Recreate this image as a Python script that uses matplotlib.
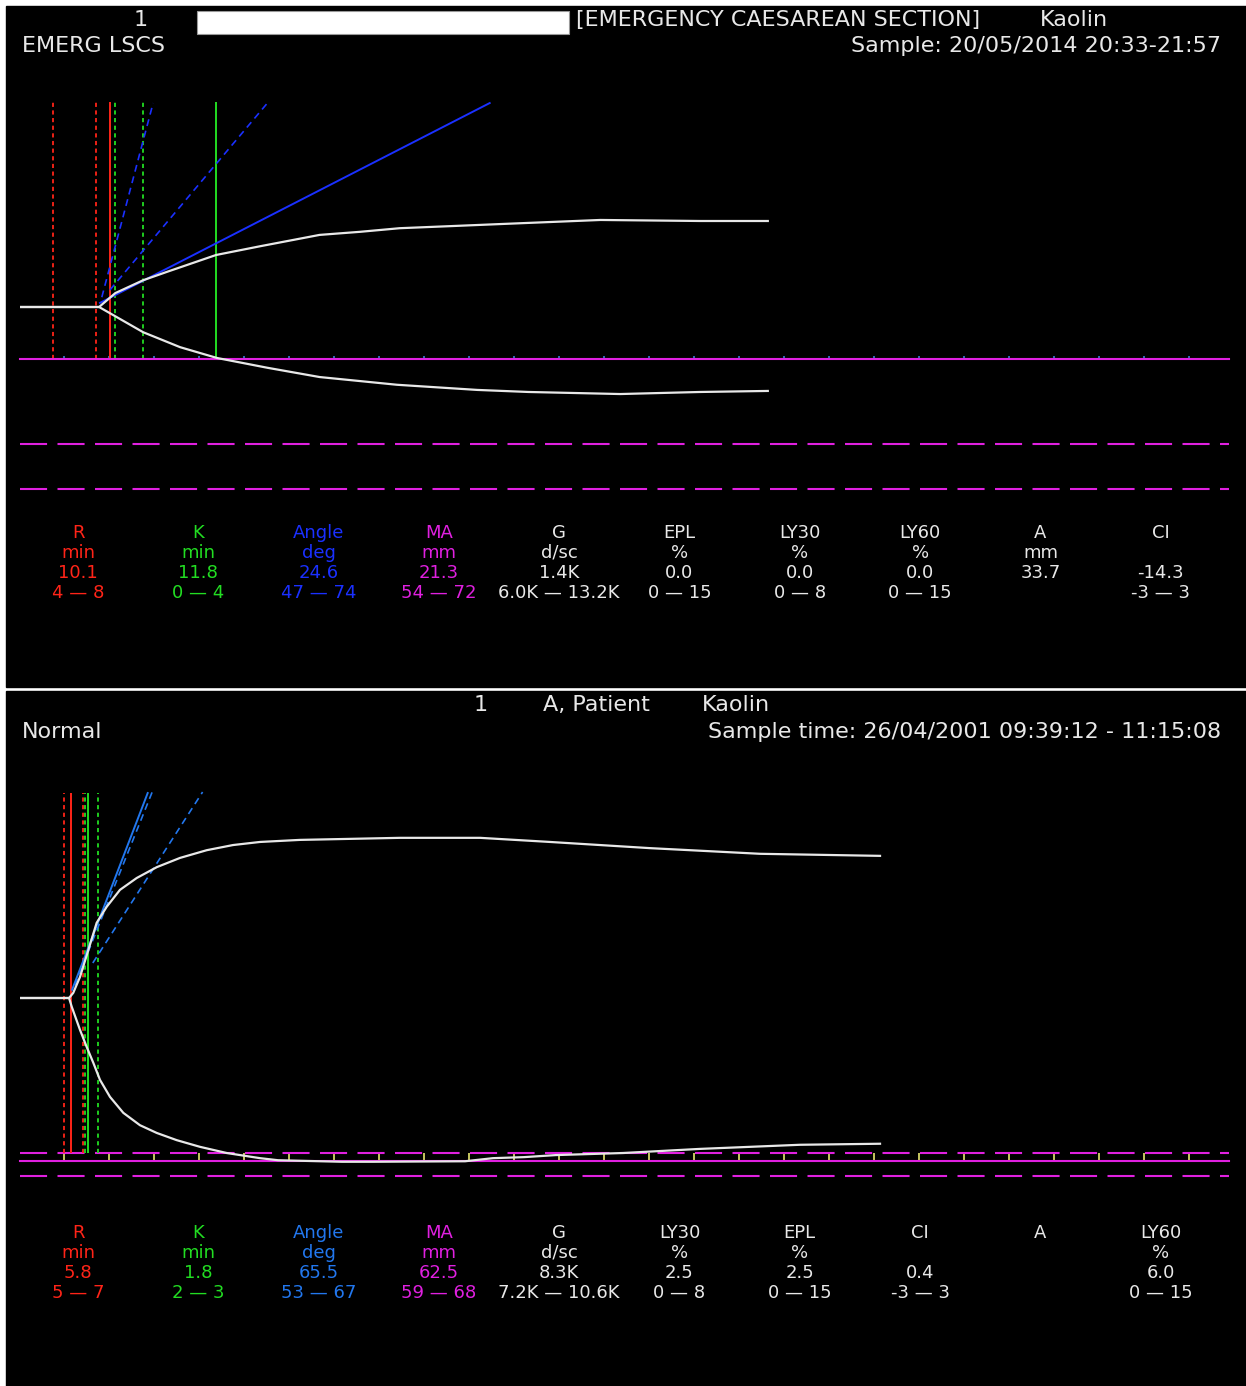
import matplotlib
matplotlib.use('Agg')
import matplotlib.pyplot as plt
from matplotlib.patches import Rectangle

plt.rcParams['font.family'] = ['DejaVu Sans']
plt.rcParams['lines.scale_dashes'] = False

W, H = 1246, 1386

# ---- panel 1: emergency LSCS trace (time in min, amplitude in mm) ----
p1_up_t = [0, 8.9, 10.7, 13.8, 16.4, 21.9, 26.8, 33.4, 37.9, 42.3, 47.9, 53.4, 59.0, 64.6, 75.7, 83.2]
p1_up_amp = [0, 0, 2.7, 5.2, 6.8, 10.1, 11.8, 14.0, 14.6, 15.3, 15.7, 16.1, 16.5, 16.9, 16.7, 16.7]
p1_lo_t = [0, 8.9, 10.1, 13.8, 17.9, 22.0, 27.6, 33.4, 42.0, 50.9, 56.6, 66.8, 75.7, 83.2]
p1_lo_amp = [0, 0, 1.2, 4.9, 7.8, 9.9, 11.8, 13.6, 15.1, 16.1, 16.5, 16.9, 16.5, 16.3]

p1_r_range = [3.8, 8.6]
p1_r = 10.1
p1_k_range = [10.7, 13.8]
p1_rk = 21.9
p1_angle_t = [9.0, 52.3]
p1_angle_amp = [0.8, 39.6]
p1_angle_lo_t = [9.2, 14.9]
p1_angle_lo_amp = [1.9, 39.6]
p1_angle_hi_t = [10.1, 27.6]
p1_angle_hi_amp = [3.3, 39.6]
p1_base = -10.1
p1_limits = [-26.6, -35.3]

# ---- panel 2: normal trace ----
p2_up_t = [0, 5.56, 6.03, 6.78, 7.7, 8.63, 9.74, 11.22, 13.08, 15.3, 17.89, 20.86, 23.78,
           26.78, 31.22, 42.33, 51.22, 59.0, 70.11, 82.33, 95.67]
p2_up_amp = [0, 0, 1.0, 4.1, 9.3, 14.6, 17.7, 21.0, 23.3, 25.4, 27.2, 28.7, 29.7,
             30.3, 30.7, 31.1, 31.1, 30.3, 29.1, 28.0, 27.6]
p2_lo_t = [0, 5.56, 5.86, 6.78, 7.52, 8.26, 9.0, 10.11, 11.59, 13.44, 15.3, 17.52, 20.11,
           23.08, 26.78, 28.78, 35.89, 39.33, 49.56, 52.67, 56.11, 59.67, 67.11, 75.67, 86.78, 95.67]
p2_lo_amp = [0, 0, 1.7, 6.2, 9.5, 12.6, 15.9, 19.2, 22.3, 24.7, 26.2, 27.6, 28.9,
             30.1, 31.1, 31.5, 31.8, 31.8, 31.7, 31.1, 30.9, 30.5, 30.1, 29.3, 28.5, 28.3]

p2_r_range = [5.0, 7.1]
p2_r = 5.8
p2_k_range = [7.3, 8.8]
p2_rk = 7.7
p2_angle_t = [5.9, 14.3]
p2_angle_amp = [1.6, 39.8]
p2_angle_lo_t = [6.2, 14.8]
p2_angle_lo_amp = [2.5, 40.0]
p2_angle_hi_t = [8.2, 20.4]
p2_angle_hi_amp = [6.8, 40.0]
p2_base = -31.65
p2_limits = [-30.1, -34.6]

tick_times = list(range(5, 135, 5))

# ---- result tables ----
p1_names = ['R', 'K', 'Angle', 'MA', 'G', 'EPL', 'LY30', 'LY60', 'A', 'CI']
p1_units = ['min', 'min', 'deg', 'mm', 'd/sc', '%', '%', '%', 'mm', '']
p1_values = ['10.1', '11.8', '24.6', '21.3', '1.4K', '0.0', '0.0', '0.0', '33.7', '-14.3']
p1_ranges = ['4 — 8', '0 — 4', '47 — 74', '54 — 72', '6.0K — 13.2K', '0 — 15', '0 — 8', '0 — 15', '', '-3 — 3']

p2_names = ['R', 'K', 'Angle', 'MA', 'G', 'LY30', 'EPL', 'CI', 'A', 'LY60']
p2_units = ['min', 'min', 'deg', 'mm', 'd/sc', '%', '%', '', '', '%']
p2_values = ['5.8', '1.8', '65.5', '62.5', '8.3K', '2.5', '2.5', '0.4', '', '6.0']
p2_ranges = ['5 — 7', '2 — 3', '53 — 67', '59 — 68', '7.2K — 10.6K', '0 — 8', '0 — 15', '-3 — 3', '', '0 — 15']

RED = '#ff2418'
GREEN = '#22dd22'
BLUE1 = '#1a30ff'
BLUE2 = '#2277ee'
MAGENTA = '#e020e0'
WHITE = '#e8e8e8'

p1_colors = [RED, GREEN, BLUE1, MAGENTA] + [WHITE] * 6
p2_colors = [RED, GREEN, BLUE2, MAGENTA] + [WHITE] * 6

fig = plt.figure(figsize=(W / 100, H / 100), dpi=100, facecolor='white')

# background, frames and all text in pixel coordinates
bg = fig.add_axes([0, 0, 1, 1])
bg.set_xlim(0, W)
bg.set_ylim(H, 0)
bg.axis('off')
bg.add_patch(Rectangle((6, 6), W - 6, 681, color='black'))
bg.add_patch(Rectangle((6, 691), W - 6, H - 691, color='black'))
bg.add_patch(Rectangle((197, 11), 372, 23, facecolor='white', edgecolor='#999999', lw=0.8))

hdr = dict(color=WHITE, fontsize=16, va='center')
bg.text(141, 20, '1', ha='center', **hdr)
bg.text(576, 20, '[EMERGENCY CAESAREAN SECTION]', ha='left', **hdr)
bg.text(1040, 20, 'Kaolin', ha='left', **hdr)
bg.text(22, 46, 'EMERG LSCS', ha='left', **hdr)
bg.text(1221, 46, 'Sample: 20/05/2014 20:33-21:57', ha='right', **hdr)

bg.text(481, 705, '1', ha='center', **hdr)
bg.text(543, 705, 'A, Patient', ha='left', **hdr)
bg.text(702, 705, 'Kaolin', ha='left', **hdr)
bg.text(22, 732, 'Normal', ha='left', **hdr)
bg.text(1221, 732, 'Sample time: 26/04/2001 09:39:12 - 11:15:08', ha='right', **hdr)


def table(names, units, values, ranges, colors, y0):
    for i in range(len(names)):
        x = 78 + 120.3 * i
        for j, s in enumerate([names[i], units[i], values[i], ranges[i]]):
            bg.text(x, y0 + [0, 19.5, 40, 60][j], s, color=colors[i], fontsize=13,
                    ha='center', va='center')


table(p1_names, p1_units, p1_values, p1_ranges, p1_colors, 533)
table(p2_names, p2_units, p2_values, p2_ranges, p2_colors, 1233)


def trace_axes(ytop, ybot, centre, base, tick_color, tick_len):
    ax = fig.add_axes([20 / W, 1 - ybot / H, 1209 / W, (ybot - ytop) / H])
    ax.set_xlim((20 - 19) / 9, (1229 - 19) / 9)
    ax.set_ylim((centre - ybot) / 5.15, (centre - ytop) / 5.15)
    ax.patch.set_alpha(0)
    for s in ['top', 'right', 'left']:
        ax.spines[s].set_visible(False)
    ax.spines['bottom'].set_position(('data', base))
    ax.spines['bottom'].set_color(MAGENTA)
    ax.spines['bottom'].set_linewidth(1.5)
    ax.set_xticks(tick_times)
    ax.set_yticks([])
    ax.tick_params(axis='x', direction='in', length=tick_len, width=1.2,
                   color=tick_color, labelbottom=False)
    return ax


def draw(ax, up_t, up_amp, lo_t, lo_amp, r_range, r, k_range, rk, ang, ang_lo, ang_hi,
         limits, line_bottom, blue):
    for y in limits:
        ax.axhline(y, color=MAGENTA, lw=1.5, ls=(0, (19.5, 7.5)))
    ax.vlines(r_range, line_bottom, 39.8, color=RED, lw=1.3, ls=(0, (3, 2.5)))
    ax.vlines(k_range, line_bottom, 39.8, color=GREEN, lw=1.3, ls=(0, (3, 2.5)))
    ax.vlines([r], line_bottom, 39.8, color=RED, lw=1.4)
    ax.vlines([rk], line_bottom, 39.8, color=GREEN, lw=1.4)
    ax.plot(ang[0], ang[1], color=blue, lw=1.4)
    ax.plot(ang_lo[0], ang_lo[1], color=blue, lw=1.2, ls=(0, (5, 3.5)))
    ax.plot(ang_hi[0], ang_hi[1], color=blue, lw=1.2, ls=(0, (5, 3.5)))
    ax.plot(up_t, up_amp, color=WHITE, lw=1.6, zorder=5)
    ax.plot(lo_t, [-a for a in lo_amp], color=WHITE, lw=1.6, zorder=5)


ax1 = trace_axes(100, 500, 307, p1_base, '#3a7bd5', 2.5)
draw(ax1, p1_up_t, p1_up_amp, p1_lo_t, p1_lo_amp, p1_r_range, p1_r, p1_k_range, p1_rk,
     (p1_angle_t, p1_angle_amp), (p1_angle_lo_t, p1_angle_lo_amp),
     (p1_angle_hi_t, p1_angle_hi_amp), p1_limits, p1_base, BLUE1)

ax2 = trace_axes(785, 1190, 998, p2_base, '#e8e870', 5.8)
draw(ax2, p2_up_t, p2_up_amp, p2_lo_t, p2_lo_amp, p2_r_range, p2_r, p2_k_range, p2_rk,
     (p2_angle_t, p2_angle_amp), (p2_angle_lo_t, p2_angle_lo_amp),
     (p2_angle_hi_t, p2_angle_hi_amp), p2_limits, p2_limits[0], BLUE2)

fig.savefig('out.png', dpi=100, facecolor='white')
